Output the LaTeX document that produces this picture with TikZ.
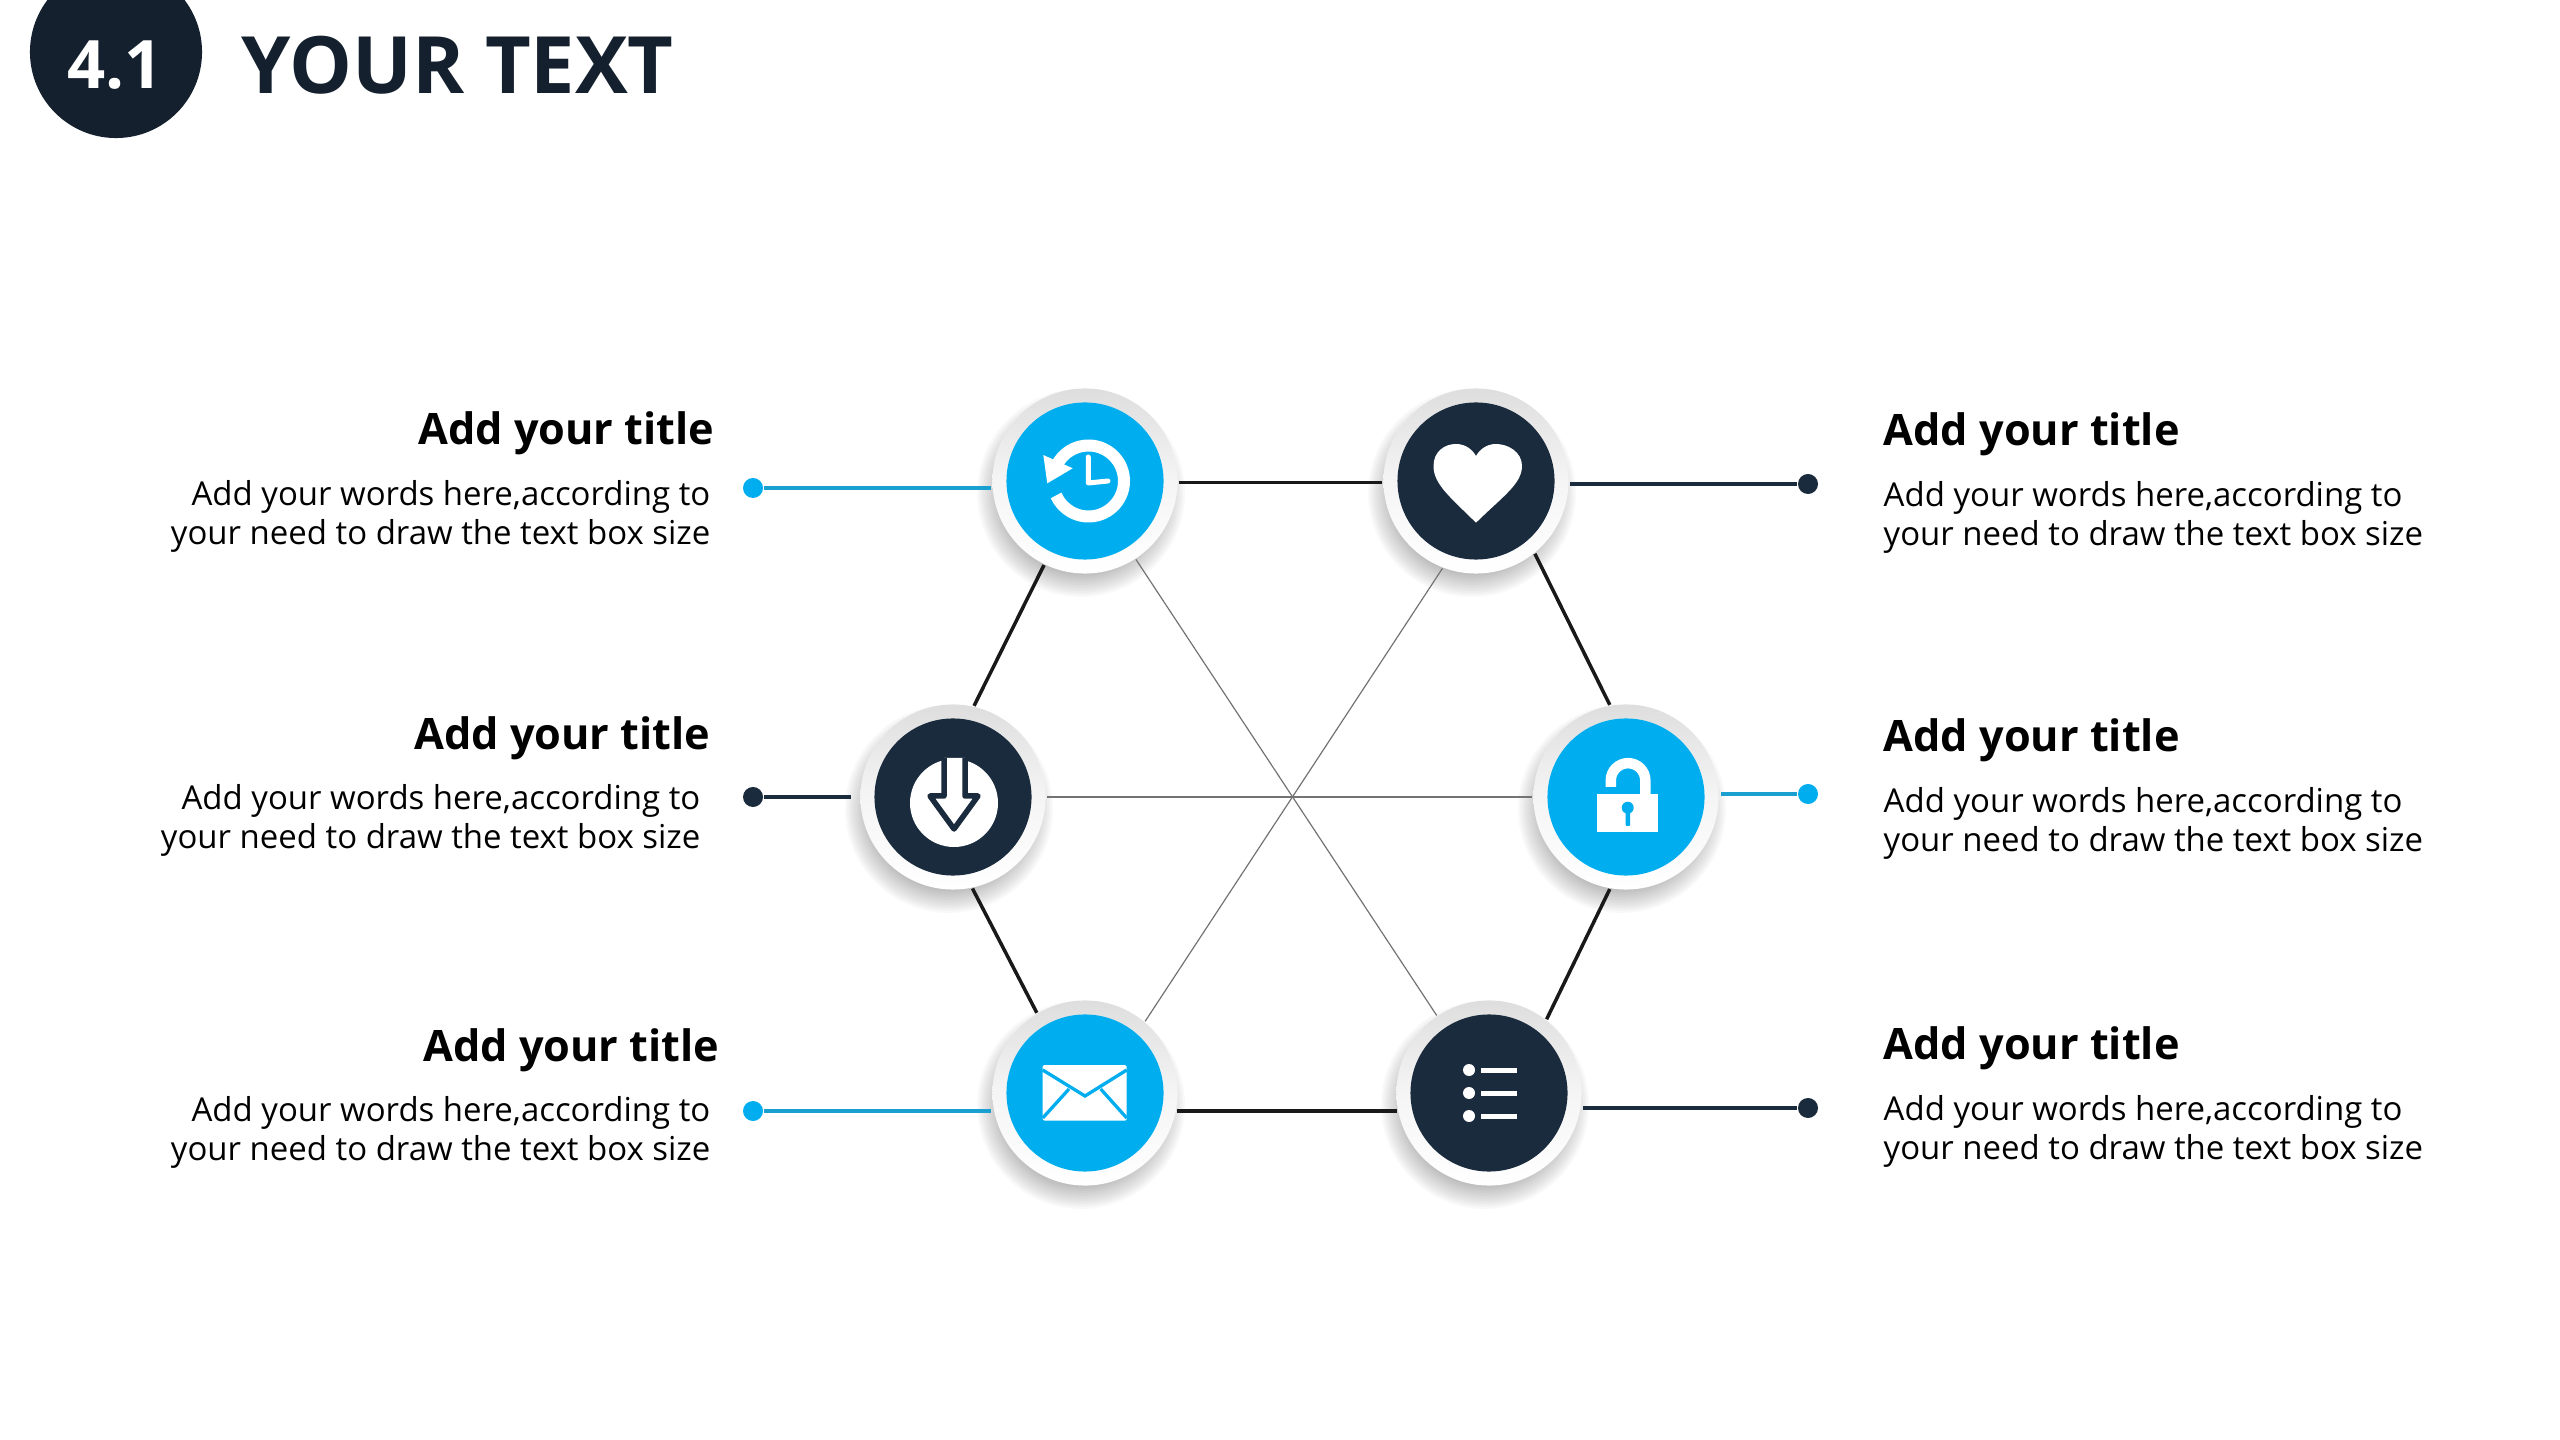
\documentclass[tikz,border=0pt]{standalone}
\usepackage{fontspec}
\setmainfont{Open Sans}
\usepackage{xcolor}
\usetikzlibrary{positioning}
\definecolor{brandblue}{HTML}{00AEEF}
\definecolor{darknavy}{HTML}{1A2B3E}
\definecolor{headnavy}{HTML}{15202E}
\newcommand{\wordstext}{Add your words here,according to\\your need to draw the text box size}

\begin{document}
\begin{tikzpicture}[x=0.01cm, y=-0.01cm,
    ring/.style={circle, minimum size=1.85cm, inner sep=0pt, outer sep=0.01cm, top color=black!13, bottom color=white, middle color=black!4},
    disc/.style={circle, minimum size=1.57cm, inner sep=0pt},
    dotn/.style={circle, minimum size=0.2cm, inner sep=0pt},
    headline/.style={inner sep=0pt, text=black, font=\fontsize{12.3}{14}\selectfont\bfseries},
    words/.style={inner sep=0pt, text=black, font=\fontsize{9.37}{11.1}\selectfont},
    mainline/.style={black!90, line width=0.035cm},
    thinline/.style={black!55, line width=0.012cm},
    blueline/.style={brandblue!85!black!90, line width=0.032cm},
    navyline/.style={darknavy, line width=0.032cm}]
    \clip (0,0) rectangle (2560,1440);

    % header
    \node[circle, fill=headnavy, minimum size=1.72cm, inner sep=0pt] (badge) at (116,52) {};
    \node[text=white, inner sep=0pt, font=\fontsize{19}{24}\selectfont\bfseries] (badgetext) at (115,65) {4.1};
    \node[text=headnavy, inner sep=0pt, anchor=west, font=\fontsize{22.5}{26}\selectfont\bfseries] (headtext) at (241,65) {YOUR TEXT};

    % circles
    \foreach \nm/\cx/\cy/\col in {hist/1085/481/brandblue, heart/1476/481/darknavy, down/953/797/darknavy,
        lock/1626/797/brandblue, mail/1085/1093/brandblue, list/1489/1093/darknavy} {
        \foreach \rr in {82,84,...,104} {
            \fill[black, opacity=.022] (\cx-4,\cy+12) circle (\rr);
        }
        \node[ring] (\nm) at (\cx,\cy) {};
        \node[disc, fill=\col] (\nm in) at (\nm) {};
    }

    % end dots
    \node[dotn, fill=brandblue] (histdot) at (753,488) {};
    \node[dotn, fill=darknavy] (downdot) at (753,797) {};
    \node[dotn, fill=brandblue] (maildot) at (753,1111) {};
    \node[dotn, fill=darknavy] (heartdot) at (1808,484) {};
    \node[dotn, fill=brandblue] (lockdot) at (1808,794) {};
    \node[dotn, fill=darknavy] (listdot) at (1808,1108) {};

    % connectors
    \draw[blueline] (histdot) -- (histdot -| hist.west);
    \draw[navyline] (downdot) -- ++(98,0) coordinate (downend);
    \draw[blueline] (maildot) -- (maildot -| mail.west);
    \draw[navyline] (heartdot) -- (heartdot -| heart.east);
    \draw[blueline] (lockdot) -- ++(-87,0) coordinate (lockend);
    \draw[navyline] (listdot) -- (listdot -| list.east);
    \draw[mainline] (hist.-1) -- (heart.181);
    \draw[mainline] (mail.-11) -- (list.191);
    \draw[mainline] (hist.244) -- (down.77);
    \draw[mainline] (heart.-51) -- (lock.100);
    \draw[mainline] (down.-78) -- (mail.121);
    \draw[mainline] (lock.-100) -- (list.52);
    \draw[thinline] (hist.-57) -- (list.124);
    \draw[thinline] (heart.-111) -- (mail.50);
    \draw[thinline, line width=0.018cm] (down) -- (lock);

    % history icon
    \draw[white, line width=0.12cm] (1088.5,481) ++(-150:35.5) arc (-150:156:35.5);
    \fill[white] (1043.3,455) -- (1072.7,468.3) -- (1047.3,483.3) -- cycle;
    \draw[white, line width=0.05cm, line cap=round, line join=round] (1088.3,457) -- (1088.3,483) -- (1108,481);

    % heart icon
    \fill[white] (1476,522.7) .. controls (1450,497) and (1433.5,484) .. (1433.5,466)
        .. controls (1433.5,452) and (1444,444) .. (1456,444)
        .. controls (1465,444) and (1472,449) .. (1476,456)
        .. controls (1480,449) and (1487,444) .. (1496,444)
        .. controls (1508,444) and (1522,452) .. (1522,466)
        .. controls (1522,484) and (1502,497) .. (1476,522.7) -- cycle;

    % download icon
    \fill[white] (954,803) circle (44);
    \draw[darknavy, fill=white, line width=0.055cm, line join=round] (944,758) -- (944,796) -- (930,796)
        -- (954,829) -- (978,796) -- (965,796) -- (965,758);

    % lock icon
    \fill[white] (1597,794) rectangle (1658,832);
    \draw[white, line width=0.105cm] (1610.8,787) -- (1610.8,780.4) arc (180:360:17.25) -- (1645.3,796);
    \fill[brandblue] (1627.7,807.7) circle (6);
    \fill[brandblue, rounded corners=0.01cm] (1625.5,808) rectangle (1630,826);

    % mail icon
    \fill[white, rounded corners=0.015cm] (1042.7,1065) rectangle (1126.7,1120.7);
    \draw[brandblue, line width=0.033cm] (1042.7,1070) -- (1085,1096) -- (1126.7,1070);
    \draw[brandblue, line width=0.033cm] (1042.7,1118) -- (1069,1089);
    \draw[brandblue, line width=0.033cm] (1126.7,1118) -- (1100.7,1089);

    % list icon
    \foreach \ly in {1070,1093,1116} {
        \fill[white] (1469,\ly) circle (6);
        \fill[white] (1481,\ly-2.5) rectangle (1517,\ly+2.5);
    }

    % left texts
    \node[headline, anchor=east] (histtitle) at (715,433) {Add your title};
    \node[words, anchor=east, align=right] (histwords) at (711,516) {\wordstext};
    \node[headline, anchor=east] (downtitle) at (711,738) {Add your title};
    \node[words, anchor=east, align=right] (downwords) at (701,820) {\wordstext};
    \node[headline, anchor=east] (mailtitle) at (720,1050) {Add your title};
    \node[words, anchor=east, align=right] (mailwords) at (711,1132) {\wordstext};

    % right texts
    \node[headline, anchor=west] (hearttitle) at (1883,434) {Add your title};
    \node[words, anchor=west, align=left] (heartwords) at (1883,517) {\wordstext};
    \node[headline, anchor=west] (locktitle) at (1883,740) {Add your title};
    \node[words, anchor=west, align=left] (lockwords) at (1883,823) {\wordstext};
    \node[headline, anchor=west] (listtitle) at (1883,1048) {Add your title};
    \node[words, anchor=west, align=left] (listwords) at (1883,1131) {\wordstext};
\end{tikzpicture}
\end{document}
